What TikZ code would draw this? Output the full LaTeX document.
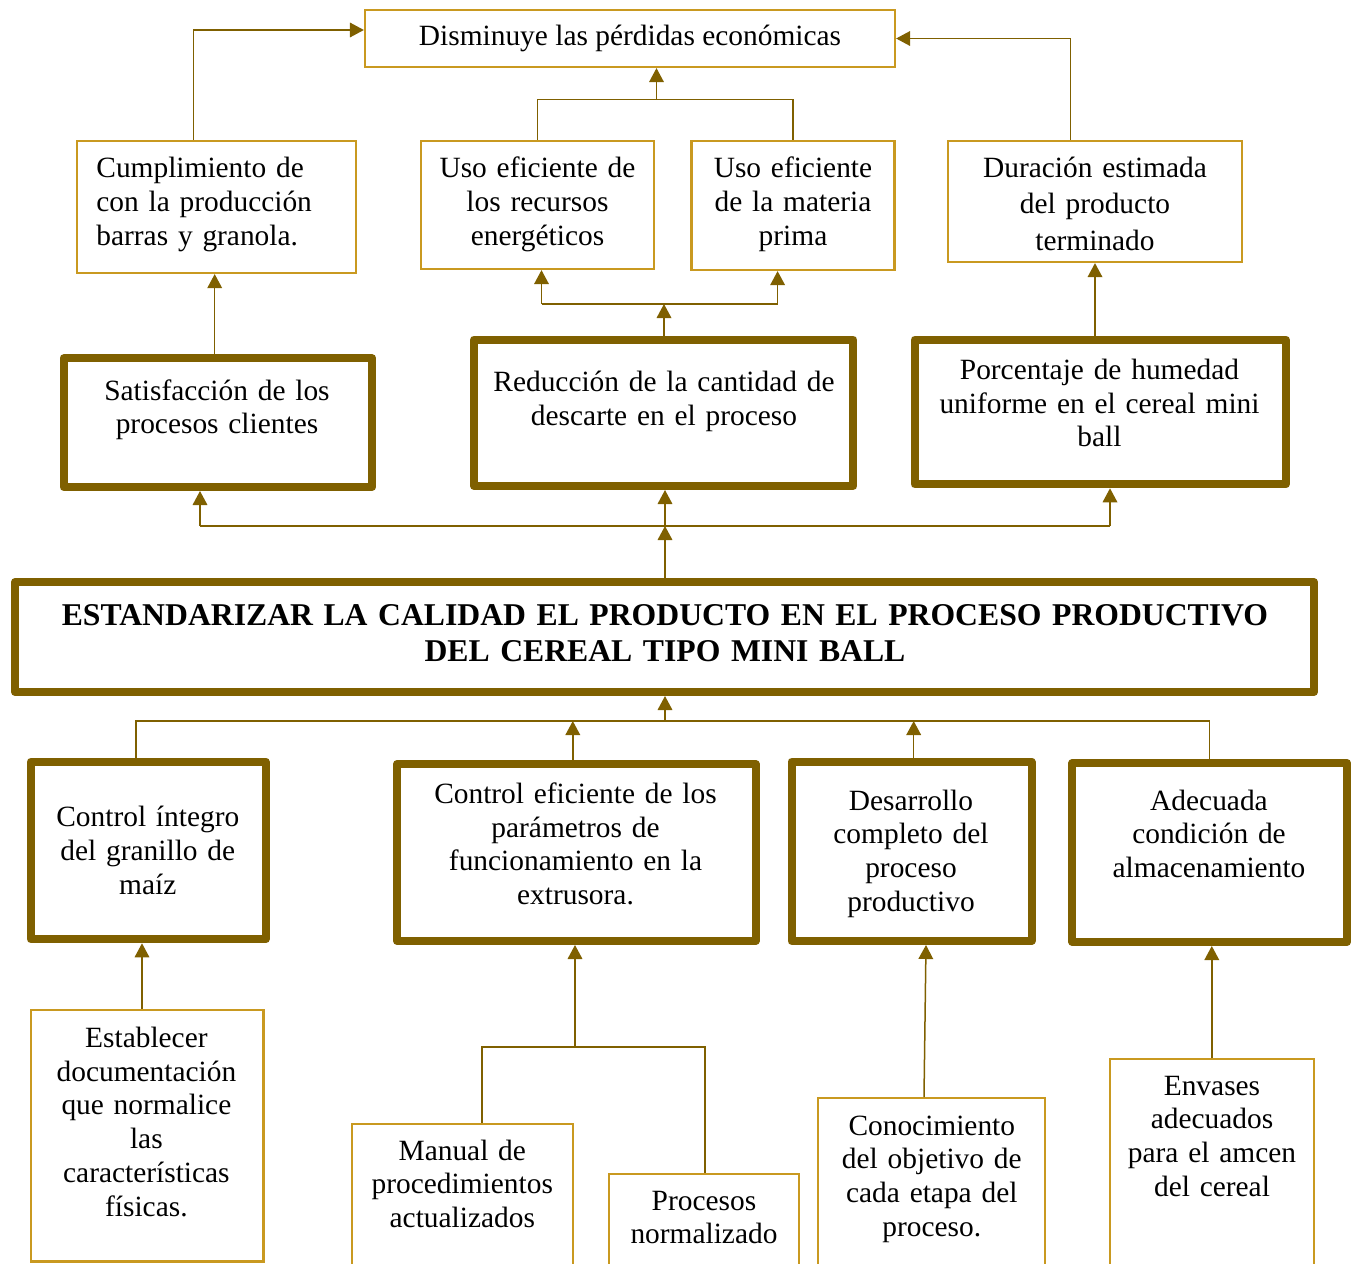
\documentclass[tikz,border=0pt]{standalone}
\usepackage{fontspec}
\setmainfont{Liberation Serif}
\usetikzlibrary{arrows.meta}

\definecolor{boxgold}{RGB}{201,153,32}
\definecolor{linebrown}{RGB}{127,96,0}

\newcommand\diagfont{\fontsize{14.7pt}{16.9pt}\selectfont}
\newcommand\diagfontwide{\fontsize{14.7pt}{18.3pt}\selectfont}
\newcommand\headfont{\fontsize{15.85pt}{18.35pt}\selectfont\bfseries}

\begin{document}
\begin{tikzpicture}[x=0.5pt,y=-0.5pt,
  thinbox/.style={draw=boxgold, line width=1.1pt, fill=white, inner sep=0pt},
  thickbox/.style={draw=linebrown, line width=4pt, fill=white, inner sep=0pt, line join=round},
  conn/.style={draw=linebrown, line width=0.75pt},
  arr/.style={-{Triangle[length=7pt,width=7.3pt]}},
  txt/.style={inner sep=0pt, anchor=base, align=center, font=\diagfont},
  head/.style={inner sep=0pt, anchor=base, align=center, font=\headfont}]

\useasboundingbox (0,0) rectangle (1357,1264);
\clip (0,0) rectangle (1357,1264);

% ---- boxes ----
\node[thinbox, minimum width=265pt, minimum height=28.5pt] (dis) at (630,38.5) {};
\node[thinbox, minimum width=139.5pt, minimum height=66pt] (cum) at (216.5,207) {};
\node[thinbox, minimum width=116.5pt, minimum height=64pt] (usr) at (537.5,205) {};
\node[thinbox, minimum width=101.5pt, minimum height=64.5pt] (usm) at (793,205.5) {};
\node[thinbox, minimum width=147pt, minimum height=60.5pt] (dur) at (1095,201.5) {};

\node[thickbox, minimum width=154.4pt, minimum height=64.3pt] (sat) at (217.9,422.7) {};
\node[thickbox, minimum width=189.7pt, minimum height=73.2pt] (red) at (663.7,412.8) {};
\node[thickbox, minimum width=185.7pt, minimum height=72.3pt] (por) at (1100.3,412) {};

\node[thickbox, minimum width=649.5pt, minimum height=55pt] (obj) at (664.5,637) {};

\node[thickbox, minimum width=117.4pt, minimum height=88.8pt] (cin) at (148.2,850.5) {};
\node[thickbox, minimum width=179.3pt, minimum height=88.5pt] (cef) at (576.3,852.5) {};
\node[thickbox, minimum width=120pt, minimum height=89.7pt] (des) at (911.5,851.3) {};
\node[thickbox, minimum width=137.3pt, minimum height=89.5pt] (ade) at (1209.7,852.5) {};

\node[thinbox, minimum width=116.2pt, minimum height=125.7pt] (est) at (147.2,1135.7) {};
\node[thinbox, minimum width=110.4pt, minimum height=83.2pt] (man) at (462.4,1206.9) {};
\node[thinbox, minimum width=95pt, minimum height=58.2pt] (pro) at (704,1231.9) {};
\node[thinbox, minimum width=113.6pt, minimum height=95.9pt] (con) at (931.4,1194.2) {};
\node[thinbox, minimum width=101.8pt, minimum height=115.4pt] (env) at (1211.8,1174.7) {};

% ---- texts ----
\node[txt] (tdis) at (630,45) {Disminuye las pérdidas económicas};
\node[txt, anchor=base west, align=left, text width=130pt] (tcum) at (96,177.7) {Cumplimiento de\\con la producción\\barras y granola.};
\node[txt, text width=115pt] (tusr) at (537.5,177.7) {Uso eficiente de\\los recursos\\energéticos};
\node[txt, text width=100pt] (tusm) at (793,177.7) {Uso eficiente\\de la materia\\prima};
\node[txt, text width=145pt, font=\diagfontwide] (tdur) at (1095,177) {Duración estimada\\del producto\\terminado};

\node[txt, text width=150pt] (tsat) at (217,400) {Satisfacción de los\\procesos clientes};
\node[txt, text width=185pt] (tred) at (664,391.7) {Reducción de la cantidad de\\descarte en el proceso};
\node[txt, text width=185pt] (tpor) at (1099.5,379.3) {Porcentaje de humedad\\uniforme en el cereal mini\\ball};

\node[head, text width=640pt] (tobj) at (665,625) {ESTANDARIZAR LA CALIDAD EL PRODUCTO EN EL PROCESO PRODUCTIVO\\DEL CEREAL TIPO MINI BALL};

\node[txt, text width=115pt] (tcin) at (147.8,826.7) {Control íntegro\\del granillo de\\maíz};
\node[txt, text width=178pt] (tcef) at (575.5,803.3) {Control eficiente de los\\parámetros de\\funcionamiento en la\\extrusora.};
\node[txt, text width=118pt] (tdes) at (911,810) {Desarrollo\\completo del\\proceso\\productivo};
\node[txt, text width=135pt] (tade) at (1209,810) {Adecuada\\condición de\\almacenamiento};

\node[txt, text width=115pt] (test) at (146.4,1047.3) {Establecer\\documentación\\que normalice\\las\\características\\físicas.};
\node[txt, text width=110pt] (tman) at (462.3,1160) {Manual de\\procedimientos\\actualizados};
\node[txt, text width=94pt] (tpro) at (704,1210) {Procesos\\normalizado};
\node[txt, text width=112pt] (tcon) at (931.8,1135) {Conocimiento\\del objetivo de\\cada etapa del\\proceso.};
\node[txt, text width=100pt] (tenv) at (1212,1095) {Envases\\adecuados\\para el amcen\\del cereal};

% ---- upper connectors ----
\coordinate (k1) at (193.5,30);
\draw[conn,arr] (cum.north -| k1) |- (dis.west |- k1);
\coordinate (k2) at (1070.6,38.5);
\draw[conn,arr] (dur.north -| k2) |- (dis.east);
\coordinate (k3) at (656.5,99.5);
\draw[conn] (usr.north) |- (k3) -| (usm.north);
\draw[conn,arr] (k3) -- (dis.south -| k3);

\coordinate (k4) at (664,304);
\coordinate (k4a) at (541.5,304);
\coordinate (k4b) at (777.6,304);
\draw[conn,arr] (red.north -| k4) -- (k4);
\draw[conn] (k4a) -- (k4b);
\draw[conn,arr] (k4a) -- (usr.south -| k4a);
\draw[conn,arr] (k4b) -- (usm.south -| k4b);

\coordinate (k5) at (214.7,0);
\draw[conn,arr] (sat.north -| k5) -- (cum.south -| k5);
\draw[conn,arr] (por.north -| dur.south) -- (dur.south);

% ---- objective to effects ----
\coordinate (k7) at (665,526);
\coordinate (k7a) at (200,526);
\coordinate (k7b) at (1110,526);
\draw[conn,arr] (obj.north -| k7) -- (k7);
\draw[conn] (k7a) -- (k7b);
\draw[conn,arr] (k7a) -- (sat.south -| k7a);
\draw[conn,arr] (k7) -- (red.south -| k7);
\draw[conn,arr] (k7b) -- (por.south -| k7b);

% ---- causes to objective ----
\coordinate (k8) at (665,721);
\coordinate (k8a) at (136.2,721);
\coordinate (k8b) at (572.8,721);
\coordinate (k8c) at (913.7,721);
\draw[conn] (cin.north -| k8a) -- (k8a) -- (k8) -| (ade.north);
\draw[conn,arr] (k8) -- (obj.south -| k8);
\draw[conn,arr] (cef.north -| k8b) -- (k8b);
\draw[conn,arr] (des.north -| k8c) -- (k8c);

% ---- lower connectors ----
\coordinate (k9) at (142,0);
\draw[conn,arr] (est.north -| k9) -- (cin.south -| k9);
\coordinate (k10) at (575,1047);
\coordinate (k10a) at (482,1047);
\coordinate (k10b) at (705,1047);
\draw[conn] (man.north -| k10a) -- (k10a) -- (k10b) -- (pro.north -| k10b);
\draw[conn,arr] (k10) -- (cef.south -| k10);
\coordinate (k11a) at (924,0);
\coordinate (k11b) at (926,0);
\draw[conn,arr] (con.north -| k11a) -- (des.south -| k11b);
\draw[conn,arr] (env.north) -- (ade.south -| env.north);
\end{tikzpicture}
\end{document}
